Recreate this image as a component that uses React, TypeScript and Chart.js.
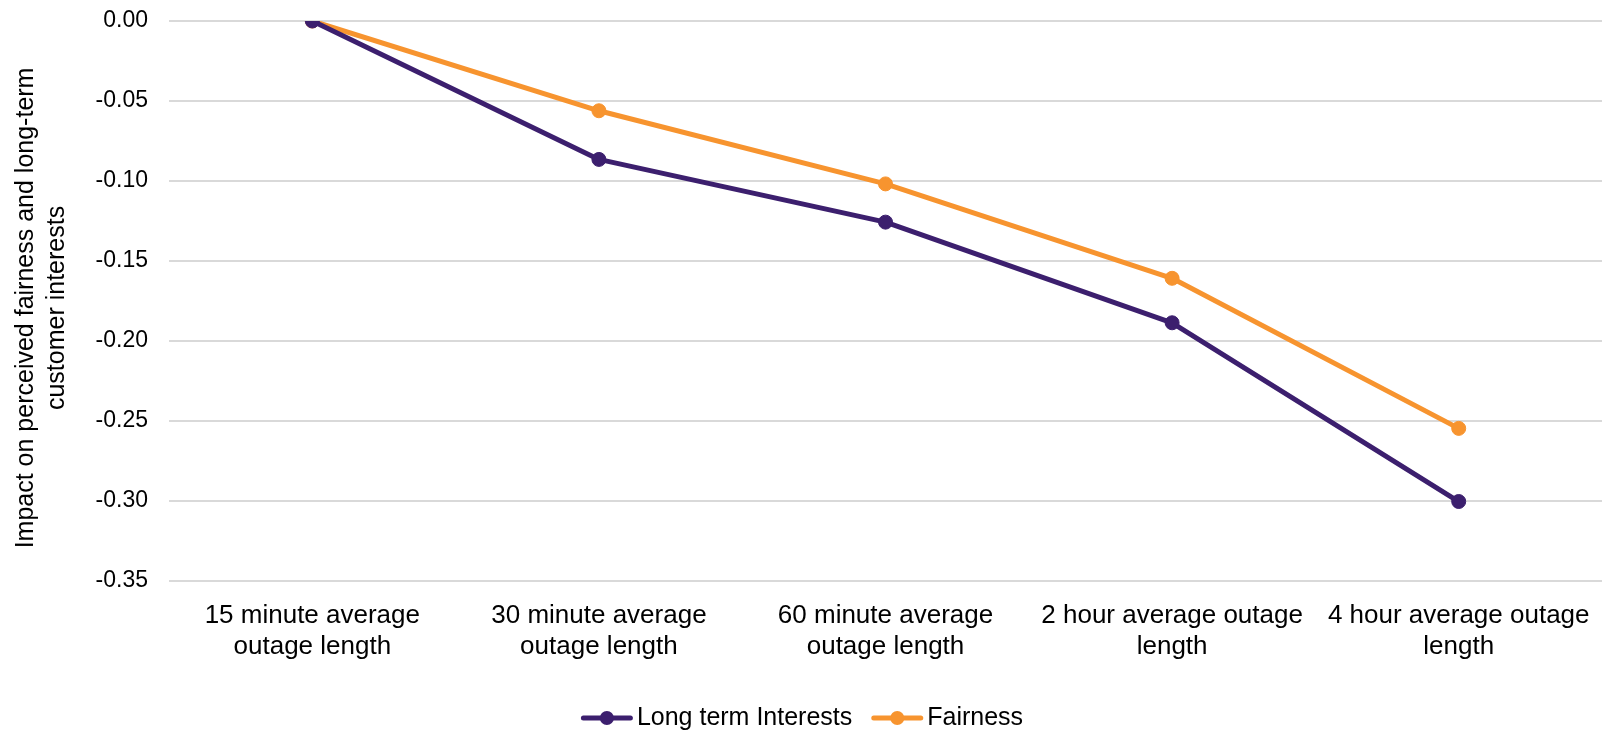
import { useEffect, useRef } from 'react';
import { Chart, registerables } from 'chart.js';

Chart.register(...registerables);

const categories: string[][] = [
  ['15 minute average', 'outage length'],
  ['30 minute average', 'outage length'],
  ['60 minute average', 'outage length'],
  ['2 hour average outage', 'length'],
  ['4 hour average outage', 'length'],
];

const longTermInterests = [0, -0.0865, -0.1257, -0.1886, -0.3003];
const fairness = [0, -0.0561, -0.1018, -0.1608, -0.2546];

const seriesNames = ['Long term Interests', 'Fairness'];
const seriesColors = ['#3c1f6e', '#f7942f'];

const yMin = -0.35;
const yMax = 0;
const yStep = 0.05;

// Trailing spaces nudge the centred axis title slightly downwards.
const yTitle = ['Impact on perceived fairness and long-term  ', 'customer interests  '];

const FONT = '"Liberation Sans", Arial, Helvetica, sans-serif';
const CLEAR = 'rgba(0,0,0,0)';

// Legend drawn as a short line with a round marker, centred under the chart.
const lineLegend = {
  id: 'lineLegend',
  afterDraw(chart: any) {
    const { ctx } = chart;
    const fontSize = 25;
    const lineLen = 52;
    const textGap = 4;
    const itemGap = 19;
    const cy = chart.height - 13;
    ctx.save();
    ctx.font = `${fontSize}px ${FONT}`;
    const items = chart.data.datasets.map((ds: any) => ({
      label: ds.label as string,
      color: ds.borderColor as string,
      textW: ctx.measureText(ds.label).width,
    }));
    const total =
      items.reduce((s: number, it: any) => s + lineLen + textGap + it.textW, 0) +
      itemGap * (items.length - 1);
    let x = (chart.width - total) / 2;
    for (const it of items) {
      ctx.strokeStyle = it.color;
      ctx.lineWidth = 5;
      ctx.lineCap = 'round';
      ctx.beginPath();
      ctx.moveTo(x + 2.5, cy);
      ctx.lineTo(x + lineLen - 2.5, cy);
      ctx.stroke();
      ctx.fillStyle = it.color;
      ctx.beginPath();
      ctx.arc(x + lineLen / 2, cy, 7, 0, Math.PI * 2);
      ctx.fill();
      ctx.fillStyle = '#000';
      ctx.textAlign = 'left';
      ctx.textBaseline = 'middle';
      ctx.fillText(it.label, x + lineLen + textGap, cy);
      x += lineLen + textGap + it.textW + itemGap;
    }
    ctx.restore();
  },
};

export default function App() {
  const canvasRef = useRef<HTMLCanvasElement | null>(null);

  useEffect(() => {
    if (!canvasRef.current) return;
    const chart = new Chart(canvasRef.current, {
      type: 'line',
      data: {
        labels: categories,
        datasets: [
          {
            label: seriesNames[0],
            data: longTermInterests,
            borderColor: seriesColors[0],
            backgroundColor: seriesColors[0],
            pointBackgroundColor: seriesColors[0],
            pointBorderColor: seriesColors[0],
            borderWidth: 5,
            pointRadius: 7,
            pointBorderWidth: 1,
            borderJoinStyle: 'round',
            tension: 0,
          },
          {
            label: seriesNames[1],
            data: fairness,
            borderColor: seriesColors[1],
            backgroundColor: seriesColors[1],
            pointBackgroundColor: seriesColors[1],
            pointBorderColor: seriesColors[1],
            borderWidth: 5,
            pointRadius: 7,
            pointBorderWidth: 1,
            borderJoinStyle: 'round',
            tension: 0,
          },
        ],
      },
      options: {
        responsive: false,
        animation: false,
        layout: { autoPadding: false, padding: { top: 0, right: 2, bottom: 67, left: 0 } },
        plugins: {
          legend: { display: false },
          tooltip: { enabled: false },
        },
        scales: {
          x: {
            offset: true,
            grid: { display: false, drawTicks: true, tickLength: 17.6, tickColor: CLEAR },
            border: { display: false },
            ticks: {
              color: '#000',
              font: { family: FONT, size: 26, lineHeight: 1.18 },
              padding: 2,
              maxRotation: 0,
              autoSkip: false,
            },
          },
          y: {
            min: yMin,
            max: yMax,
            border: { display: false },
            grid: {
              color: '#d9d9d9',
              lineWidth: 2,
              drawTicks: true,
              tickLength: 13.8,
              tickColor: CLEAR,
            },
            ticks: {
              stepSize: yStep,
              color: '#000',
              font: { family: FONT, size: 23 },
              padding: 7.2,
              callback: (v: any) => Number(v).toFixed(2),
            },
            title: {
              display: true,
              text: yTitle,
              color: '#000',
              font: { family: FONT, size: 25, lineHeight: 1.24 },
              padding: { top: 11, bottom: 15.4 },
            },
          },
        },
      },
      plugins: [lineLegend],
    });
    return () => chart.destroy();
  }, []);

  return (
    <canvas
      ref={canvasRef}
      width={1604}
      height={731}
      style={{ position: 'absolute', left: 0, top: 0, width: 1604, height: 731 }}
    />
  );
}
